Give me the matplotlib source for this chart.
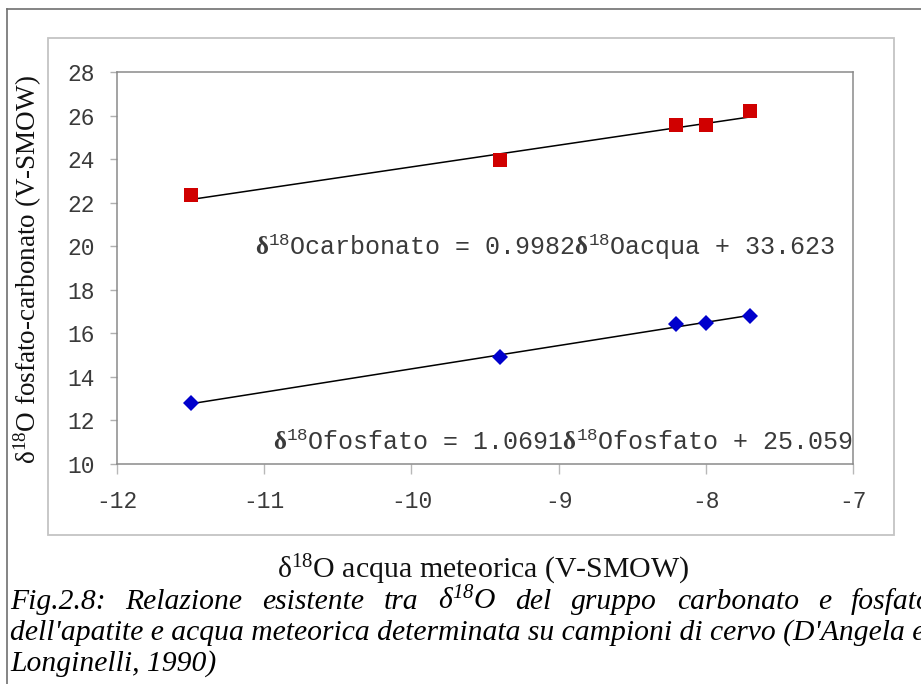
import matplotlib
matplotlib.use("Agg")
import matplotlib.pyplot as plt
from matplotlib.lines import Line2D
from matplotlib.patches import Rectangle
import numpy as np

# Data: delta-18O of meteoric water vs. carbonate / phosphate of apatite (deer samples)
acqua = [-11.5, -9.4, -8.2, -8.0, -7.7]
carbonato = [22.35, 23.96, 25.57, 25.57, 26.21]
fosfato = [12.80, 14.91, 16.43, 16.48, 16.80]

# Regression coefficients as printed in the equations
carb_slope, carb_icept = 0.9982, 33.623
fosf_slope, fosf_icept = 1.0691, 25.059

x_ticks = [-12, -11, -10, -9, -8, -7]
y_ticks = [10, 12, 14, 16, 18, 20, 22, 24, 26, 28]

plt.rcParams["mathtext.fontset"] = "custom"
plt.rcParams["mathtext.rm"] = "Liberation Serif"
plt.rcParams["mathtext.it"] = "Liberation Serif:italic"
plt.rcParams["mathtext.bf"] = "Liberation Serif:bold"
plt.rcParams["mathtext.tt"] = "Liberation Mono"
plt.rcParams["mathtext.sf"] = "Liberation Serif:italic"

W, H = 921, 684
fig = plt.figure(figsize=(W / 100, H / 100), dpi=100)
fig.patch.set_facecolor("white")


def fx(x):
    return x / W


def fy(y):
    return 1 - y / H


# document frame and chart frame
fig.add_artist(Line2D([fx(7), fx(7)], [fy(9), fy(H + 5)], color="#707070", lw=1.2))
fig.add_artist(Line2D([fx(7), fx(W + 5)], [fy(9), fy(9)], color="#707070", lw=1.2))
fig.add_artist(Rectangle((fx(48), fy(535)), fx(894 - 48), (535 - 38) / H,
                         fill=False, edgecolor="#c4c4c4", lw=1.3))

ax = fig.add_axes([fx(117), fy(464), fx(853 - 117), (464 - 72) / H])
ax.set_xlim(-12, -7)
ax.set_ylim(10, 28)
ax.set_xticks(x_ticks)
ax.set_yticks(y_ticks)
ax.set_xticklabels([f"{t:d}" for t in x_ticks])
ax.set_yticklabels([f"{t:d}" for t in y_ticks])
for s in ax.spines.values():
    s.set_color("#8a8a8a")
    s.set_linewidth(1.1)
ax.tick_params(axis="y", direction="out", length=5, width=1, color="#b0b0b0",
               labelsize=16.5, labelcolor="#3a3a3a", pad=11)
ax.tick_params(axis="x", direction="out", length=7, width=1, color="#b8b8b8",
               labelsize=16.5, labelcolor="#3a3a3a", pad=12)
for lab in ax.get_xticklabels() + ax.get_yticklabels():
    lab.set_family("Liberation Mono")

# trend lines from the printed regression equations
xa = np.array([min(acqua), max(acqua)])
ax.plot(xa, carb_slope * xa + carb_icept, color="black", lw=1.1, zorder=2)
ax.plot(xa, fosf_slope * xa + fosf_icept, color="black", lw=1.1, zorder=2)

ax.plot(acqua, carbonato, linestyle="none", marker="s", markersize=10.5,
        color="#d00000", markeredgewidth=0, zorder=3)
ax.plot(acqua, fosfato, linestyle="none", marker="D", markersize=7.8,
        color="#0000cc", markeredgewidth=0, zorder=3)

d18 = r"$\mathbf{\delta}^{\mathtt{18}}$"
eq_carb = (d18 + "Ocarbonato = " + f"{carb_slope}"
           + d18 + "Oacqua + " + f"{carb_icept}")
eq_fosf = (d18 + "Ofosfato = " + f"{fosf_slope}"
           + d18 + "Ofosfato + " + f"{fosf_icept}")
fig.text(fx(255), fy(255), eq_carb, family="Liberation Mono", fontsize=18,
         color="#3a3a3a", ha="left", va="baseline")
fig.text(fx(273), fy(450), eq_fosf, family="Liberation Mono", fontsize=18,
         color="#3a3a3a", ha="left", va="baseline")

ax.set_xlabel(r"$\mathrm{\delta}^{18}$O acqua meteorica (V-SMOW)",
              family="Liberation Serif", fontsize=21.5, color="#111111")
ax.xaxis.set_label_coords((483 - 117) / 736, (464 - 553) / 392)
ax.set_ylabel(r"$\mathrm{\delta}^{18}$O fosfato-carbonato (V-SMOW)",
              family="Liberation Serif", fontsize=19.5, color="#111111")
ax.yaxis.set_label_coords((44 - 117) / 736, (464 - 270) / 392)

# caption: first line justified across the text column
cap_kw = dict(family="Liberation Serif", style="italic", fontsize=21.3,
              color="black", ha="left", va="baseline")
line1 = ["Fig.2.8:", "Relazione", "esistente", "tra",
         r"$\mathsf{\delta^{18}O}$", "del", "gruppo", "carbonato", "e", "fosfato"]
renderer = fig.canvas.get_renderer()
words = [fig.text(0, fy(609), w, **cap_kw) for w in line1]
widths = [t.get_window_extent(renderer).width for t in words]
left, right = 10, 932
gap = (right - left - sum(widths)) / (len(words) - 1)
x = left
for t, wd in zip(words, widths):
    t.set_x(fx(x))
    x += wd + gap
fig.text(fx(10), fy(640),
         "dell'apatite e acqua meteorica determinata su campioni di cervo (D'Angela et",
         **cap_kw)
fig.text(fx(10), fy(671), "Longinelli, 1990)", **cap_kw)

fig.savefig("out.png", dpi=100)
